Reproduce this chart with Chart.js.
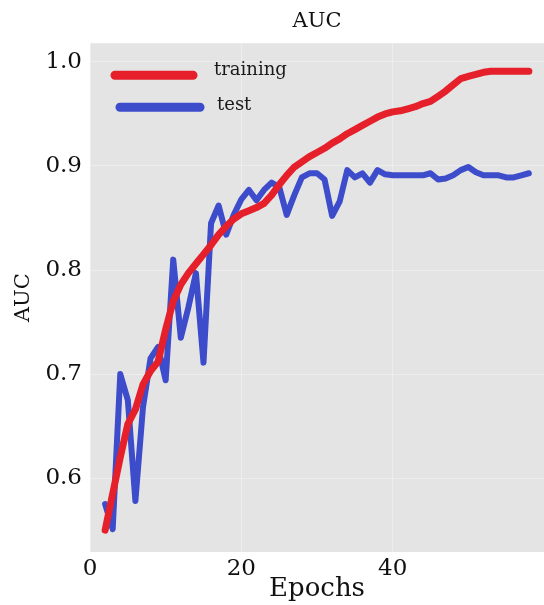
<!DOCTYPE html>
<html>
<head>
<meta charset="utf-8">
<title>AUC</title>
<script src="https://cdn.jsdelivr.net/npm/chart.js@4.4.1/dist/chart.umd.min.js"></script>
<style>
  html, body { margin: 0; padding: 0; background: #fff; }
  #wrap { width: 544px; height: 605px; }
</style>
</head>
<body>
<div id="wrap"><canvas id="aucChart" width="544" height="605"></canvas></div>
<script>
// epochs shown on the x axis
const epochs = [
  2, 3, 4, 5, 6, 7, 8, 9, 10, 11,
  12, 13, 14, 15, 16, 17, 18, 19, 20, 21,
  22, 23, 24, 25, 26, 27, 28, 29, 30, 31,
  32, 33, 34, 35, 36, 37, 38, 39, 40, 41,
  42, 43, 44, 45, 46, 47, 48, 49, 50, 51,
  52, 53, 54, 55, 56, 57, 58
];

const trainingAuc = [
  0.550, 0.585, 0.620, 0.652, 0.666, 0.690, 0.703, 0.712, 0.743, 0.770,
  0.786, 0.797, 0.806, 0.815, 0.824, 0.834, 0.842, 0.849, 0.854, 0.857,
  0.860, 0.864, 0.872, 0.882, 0.891, 0.899, 0.904, 0.909, 0.913, 0.917,
  0.922, 0.926, 0.931, 0.935, 0.939, 0.943, 0.947, 0.950, 0.952, 0.953,
  0.955, 0.957, 0.960, 0.962, 0.967, 0.972, 0.978, 0.984, 0.986, 0.988,
  0.990, 0.991, 0.991, 0.991, 0.991, 0.991, 0.991
];

const testAuc = [
  0.575, 0.551, 0.700, 0.675, 0.578, 0.668, 0.715, 0.726, 0.694, 0.810,
  0.735, 0.764, 0.797, 0.711, 0.845, 0.862, 0.834, 0.853, 0.868, 0.877,
  0.867, 0.877, 0.884, 0.880, 0.853, 0.872, 0.889, 0.893, 0.893, 0.887,
  0.852, 0.866, 0.896, 0.889, 0.893, 0.884, 0.896, 0.892, 0.891, 0.891,
  0.891, 0.891, 0.891, 0.893, 0.887, 0.888, 0.891, 0.896, 0.899, 0.894,
  0.891, 0.891, 0.891, 0.889, 0.889, 0.891, 0.893
];

const xTicks = [0, 20, 40];
const yTicks = [0.6, 0.7, 0.8, 0.9, 1.0];

const seriesNames = ["training", "test"];

const serif = "'DejaVu Serif', 'Liberation Serif', serif";

// grey panel behind the plot
const plotBackground = {
  id: "plotBackground",
  beforeDraw(chart) {
    const a = chart.chartArea;
    const ctx = chart.ctx;
    ctx.save();
    ctx.fillStyle = "#e4e4e4";
    ctx.fillRect(a.left, a.top, a.right - a.left, a.bottom - a.top);
    ctx.restore();
  }
};

// legend sitting inside the upper left of the plot
const inlineLegend = {
  id: "inlineLegend",
  afterDatasetsDraw(chart) {
    const a = chart.chartArea;
    const ctx = chart.ctx;
    const rows = [
      { x0: 25, x1: 103, y: 32, tx: 124, ty: 27 },
      { x0: 30, x1: 110, y: 64, tx: 127, ty: 62 }
    ];
    ctx.save();
    chart.data.datasets.forEach((ds, i) => {
      const r = rows[i];
      ctx.strokeStyle = ds.borderColor;
      ctx.lineWidth = 9;
      ctx.lineCap = "round";
      ctx.beginPath();
      ctx.moveTo(a.left + r.x0, a.top + r.y);
      ctx.lineTo(a.left + r.x1, a.top + r.y);
      ctx.stroke();
      ctx.fillStyle = "#1a1a1a";
      ctx.font = "18px " + serif;
      ctx.textBaseline = "middle";
      ctx.textAlign = "left";
      ctx.fillText(ds.label, a.left + r.tx, a.top + r.ty);
    });
    ctx.restore();
  }
};

const toPoints = vals => epochs.map((e, i) => ({ x: e, y: vals[i] }));

new Chart(document.getElementById("aucChart"), {
  type: "line",
  data: {
    datasets: [
      {
        label: seriesNames[0],
        data: toPoints(trainingAuc),
        borderColor: "#e5202a",
        borderWidth: 7,
        pointRadius: 0,
        tension: 0,
        borderJoinStyle: "round",
        borderCapStyle: "round"
      },
      {
        label: seriesNames[1],
        data: toPoints(testAuc),
        borderColor: "#3c4ccb",
        borderWidth: 6,
        pointRadius: 0,
        tension: 0,
        borderJoinStyle: "round",
        borderCapStyle: "round"
      }
    ]
  },
  options: {
    responsive: false,
    animation: false,
    layout: { padding: 0 },
    plugins: {
      legend: { display: false },
      tooltip: { enabled: false },
      title: {
        display: true,
        text: "AUC",
        fullSize: false,
        color: "#111",
        font: { family: serif, size: 21, weight: "normal" },
        padding: { top: 9, bottom: 9 }
      }
    },
    scales: {
      x: {
        type: "linear",
        min: 0,
        max: 60,
        afterBuildTicks: s => { s.ticks = xTicks.map(v => ({ value: v })); },
        afterFit: s => { s.height = 53; },
        border: { display: false },
        grid: { color: "rgba(255,255,255,0.35)", drawTicks: false },
        ticks: {
          autoSkip: false,
          maxRotation: 0,
          padding: 3,
          color: "#111",
          font: { family: serif, size: 23 }
        },
        title: {
          display: true,
          text: "Epochs",
          color: "#111",
          font: { family: serif, size: 26 },
          padding: { top: 0, bottom: 0 }
        }
      },
      y: {
        min: 0.529,
        max: 1.018,
        afterBuildTicks: s => { s.ticks = yTicks.map(v => ({ value: v })); },
        afterFit: s => { s.width = 90; },
        border: { display: false },
        grid: { color: "rgba(255,255,255,0.35)", drawTicks: false },
        ticks: {
          padding: 8,
          color: "#111",
          font: { family: serif, size: 23 },
          callback: v => v.toFixed(1)
        },
        title: {
          display: true,
          text: "AUC",
          color: "#111",
          font: { family: serif, size: 21 },
          padding: { top: 11, bottom: 0 }
        }
      }
    }
  },
  plugins: [plotBackground, inlineLegend]
});
</script>
</body>
</html>
